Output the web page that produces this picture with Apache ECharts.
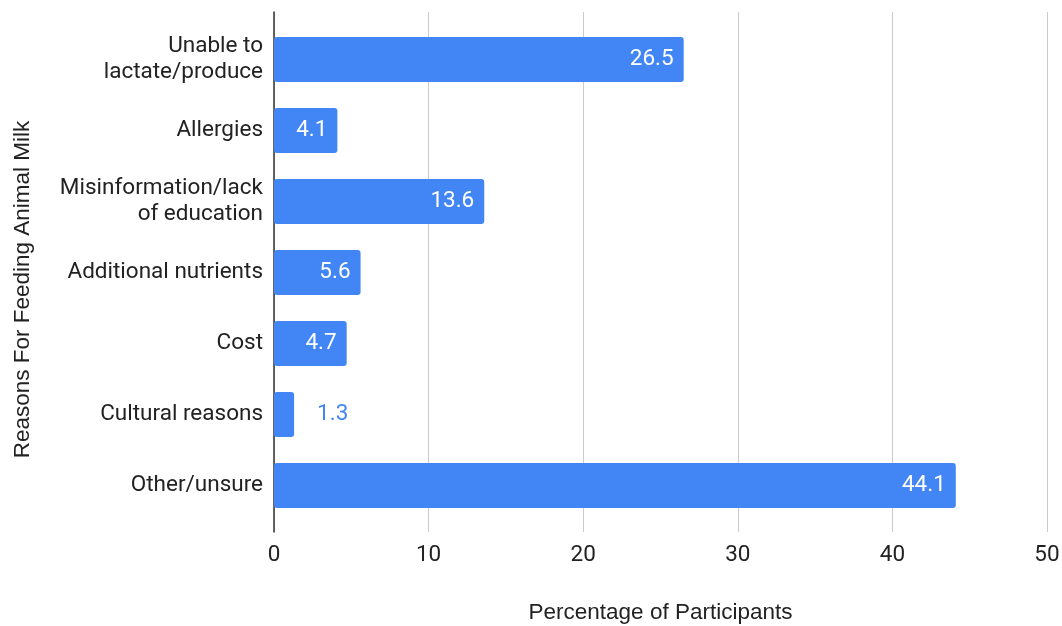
<!DOCTYPE html>
<html>
<head>
<meta charset="utf-8">
<script src="https://cdn.jsdelivr.net/npm/echarts@6/dist/echarts.min.js"></script>
<style>html,body{margin:0;padding:0;background:#fff}#c{width:1062px;height:626px}</style>
</head>
<body>
<div id="c"></div>
<script>
const categories = ["Unable to\nlactate/produce", "Allergies", "Misinformation/lack\nof education", "Additional nutrients", "Cost", "Cultural reasons", "Other/unsure"];
const values = [26.5, 4.1, 13.6, 5.6, 4.7, 1.3, 44.1];
const xTicks = [0, 10, 20, 30, 40, 50];
const xTitle = "Percentage of Participants";
const yTitle = "Reasons For Feeding Animal Milk";

const chart = echarts.init(document.getElementById('c'));
const blue = '#4285F4';
const FS = 22.5;
chart.setOption({
  animation: false,
  grid: [
    {left: 274, right: 15, top: 24, bottom: 105, outerBoundsMode: 'none', containLabel: false},
    {left: 274, right: 15, top: 12, bottom: 94, outerBoundsMode: 'none', containLabel: false}
  ],
  xAxis: [
    {
      gridIndex: 0, type: 'value', min: xTicks[0], max: xTicks[xTicks.length - 1], interval: 10,
      splitLine: {show: false}, axisLine: {show: false}, axisTick: {show: false},
      axisLabel: {color: '#222', fontFamily: 'Roboto', fontSize: FS, margin: 23},
      name: xTitle, nameLocation: 'middle', nameGap: 80,
      nameTextStyle: {color: '#222', fontFamily: 'Liberation Sans', fontSize: FS}
    },
    {
      gridIndex: 1, type: 'value', min: xTicks[0], max: xTicks[xTicks.length - 1], interval: 10,
      splitLine: {show: true, lineStyle: {color: '#cccccc', width: 1}},
      axisLine: {show: false}, axisTick: {show: false}, axisLabel: {show: false}
    }
  ],
  yAxis: [
    {
      gridIndex: 0, type: 'category', data: categories, inverse: true,
      axisLine: {show: false}, axisTick: {show: false},
      axisLabel: {color: '#222', fontFamily: 'Roboto', fontSize: FS, margin: 11, lineHeight: 26, align: 'right'},
      name: yTitle, nameLocation: 'middle', nameGap: 240, nameRotate: 90,
      nameTextStyle: {color: '#222', fontFamily: 'Liberation Sans', fontSize: FS, padding: [0, 34, 0, 0]}
    },
    {
      gridIndex: 1, type: 'category', data: categories, inverse: true,
      axisLine: {show: true, lineStyle: {color: '#333', width: 1.5}},
      axisTick: {show: false}, axisLabel: {show: false}, splitLine: {show: false}
    }
  ],
  series: [{
    type: 'bar', xAxisIndex: 0, yAxisIndex: 0, z: 3,
    data: values.map(v => v < 2 ? {value: v, label: {position: 'right', distance: 23, color: blue}} : v),
    barWidth: 45,
    itemStyle: {color: blue, borderRadius: 3},
    label: {show: true, position: 'insideRight', distance: 10, color: '#fff', fontFamily: 'Roboto', fontSize: FS}
  }]
});
</script>
</body>
</html>
